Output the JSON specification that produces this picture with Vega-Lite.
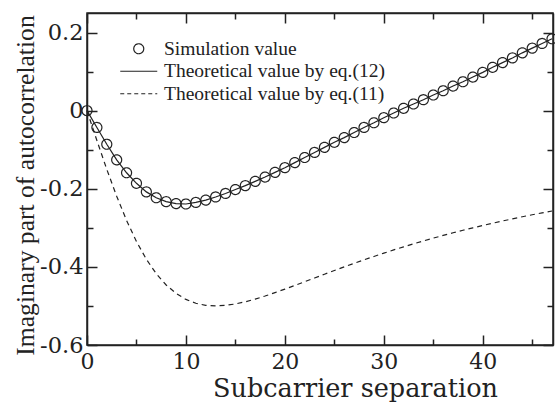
{
  "$schema": "https://vega.github.io/schema/vega-lite/v6.json",
  "autosize": {"type": "none"},
  "width": 466,
  "height": 332,
  "padding": {"left": 87, "top": 13, "right": 2, "bottom": 67},
  "background": "white",
  "config": {
    "font": "Liberation Serif",
    "view": {"stroke": "#222", "strokeWidth": 1.5},
    "legend": {"labelFont": "Liberation Serif"},
    "axis": {
      "grid": false,
      "domainColor": "#222",
      "domainWidth": 1.5,
      "tickColor": "#222",
      "tickWidth": 1.5,
      "labelColor": "#222",
      "labelFont": "DejaVu Serif",
      "labelFlush": false,
      "labelOverlap": false,
      "titleFont": "Liberation Serif",
      "titleFontWeight": "normal",
      "titleColor": "#222"
    }
  },
  "datasets": {
    "sim": [
      {"k": 0, "v": 0, "series": "Simulation value"},
      {"k": 1, "v": -0.043, "series": "Simulation value"},
      {"k": 2, "v": -0.086, "series": "Simulation value"},
      {"k": 3, "v": -0.126, "series": "Simulation value"},
      {"k": 4, "v": -0.159, "series": "Simulation value"},
      {"k": 5, "v": -0.186, "series": "Simulation value"},
      {"k": 6, "v": -0.208, "series": "Simulation value"},
      {"k": 7, "v": -0.223, "series": "Simulation value"},
      {"k": 8, "v": -0.233, "series": "Simulation value"},
      {"k": 9, "v": -0.238, "series": "Simulation value"},
      {"k": 10, "v": -0.239, "series": "Simulation value"},
      {"k": 11, "v": -0.235, "series": "Simulation value"},
      {"k": 12, "v": -0.229, "series": "Simulation value"},
      {"k": 13, "v": -0.221, "series": "Simulation value"},
      {"k": 14, "v": -0.212, "series": "Simulation value"},
      {"k": 15, "v": -0.202, "series": "Simulation value"},
      {"k": 16, "v": -0.192, "series": "Simulation value"},
      {"k": 17, "v": -0.181, "series": "Simulation value"},
      {"k": 18, "v": -0.17, "series": "Simulation value"},
      {"k": 19, "v": -0.158, "series": "Simulation value"},
      {"k": 20, "v": -0.146, "series": "Simulation value"},
      {"k": 21, "v": -0.133, "series": "Simulation value"},
      {"k": 22, "v": -0.12, "series": "Simulation value"},
      {"k": 23, "v": -0.107, "series": "Simulation value"},
      {"k": 24, "v": -0.094, "series": "Simulation value"},
      {"k": 25, "v": -0.081, "series": "Simulation value"},
      {"k": 26, "v": -0.069, "series": "Simulation value"},
      {"k": 27, "v": -0.056, "series": "Simulation value"},
      {"k": 28, "v": -0.043, "series": "Simulation value"},
      {"k": 29, "v": -0.031, "series": "Simulation value"},
      {"k": 30, "v": -0.018, "series": "Simulation value"},
      {"k": 31, "v": -0.006, "series": "Simulation value"},
      {"k": 32, "v": 0.006, "series": "Simulation value"},
      {"k": 33, "v": 0.017, "series": "Simulation value"},
      {"k": 34, "v": 0.028, "series": "Simulation value"},
      {"k": 35, "v": 0.04, "series": "Simulation value"},
      {"k": 36, "v": 0.051, "series": "Simulation value"},
      {"k": 37, "v": 0.063, "series": "Simulation value"},
      {"k": 38, "v": 0.074, "series": "Simulation value"},
      {"k": 39, "v": 0.086, "series": "Simulation value"},
      {"k": 40, "v": 0.098, "series": "Simulation value"},
      {"k": 41, "v": 0.111, "series": "Simulation value"},
      {"k": 42, "v": 0.123, "series": "Simulation value"},
      {"k": 43, "v": 0.135, "series": "Simulation value"},
      {"k": 44, "v": 0.148, "series": "Simulation value"},
      {"k": 45, "v": 0.16, "series": "Simulation value"},
      {"k": 46, "v": 0.172, "series": "Simulation value"},
      {"k": 47, "v": 0.184, "series": "Simulation value"}
    ],
    "eq11": [
      {"k": 0, "v": 0}, {"k": 1, "v": -0.0765}, {"k": 2, "v": -0.1503}, {"k": 3, "v": -0.2191},
      {"k": 4, "v": -0.2811}, {"k": 5, "v": -0.3351}, {"k": 6, "v": -0.3805}, {"k": 7, "v": -0.4174},
      {"k": 8, "v": -0.4463}, {"k": 9, "v": -0.468}, {"k": 10, "v": -0.4833}, {"k": 11, "v": -0.4931},
      {"k": 12, "v": -0.4984}, {"k": 13, "v": -0.5}, {"k": 14, "v": -0.4986}, {"k": 15, "v": -0.4949},
      {"k": 16, "v": -0.4894}, {"k": 17, "v": -0.4825}, {"k": 18, "v": -0.4746}, {"k": 19, "v": -0.466},
      {"k": 20, "v": -0.4569}, {"k": 21, "v": -0.4475}, {"k": 22, "v": -0.438}, {"k": 23, "v": -0.4284},
      {"k": 24, "v": -0.4188}, {"k": 25, "v": -0.4093}, {"k": 26, "v": -0.4}, {"k": 27, "v": -0.3909},
      {"k": 28, "v": -0.382}, {"k": 29, "v": -0.3733}, {"k": 30, "v": -0.3648}, {"k": 31, "v": -0.3566},
      {"k": 32, "v": -0.3487}, {"k": 33, "v": -0.341}, {"k": 34, "v": -0.3336}, {"k": 35, "v": -0.3264},
      {"k": 36, "v": -0.3195}, {"k": 37, "v": -0.3127}, {"k": 38, "v": -0.3063}, {"k": 39, "v": -0.3},
      {"k": 40, "v": -0.294}, {"k": 41, "v": -0.2881}, {"k": 42, "v": -0.2825}, {"k": 43, "v": -0.277},
      {"k": 44, "v": -0.2717}, {"k": 45, "v": -0.2666}, {"k": 46, "v": -0.2617}, {"k": 47, "v": -0.2569}
    ]
  },
  "resolve": {"axis": {"x": "independent", "y": "independent"}},
  "layer": [
    {
      "data": {"name": "eq11"},
      "mark": {"type": "line", "stroke": "#222", "strokeWidth": 1.2, "strokeDash": [5, 4]},
      "encoding": {
        "x": {
          "field": "k", "type": "quantitative",
          "scale": {"domain": [0, 47.1], "nice": false, "zero": false},
          "axis": {
            "orient": "bottom",
            "values": [0, 5, 10, 15, 20, 25, 30, 35, 40, 45],
            "labelExpr": "datum.value % 10 === 0 ? datum.label : ''",
            "tickSize": {"condition": {"test": "datum.value % 10 === 0", "value": -10}, "value": -6},
            "labelPadding": 16,
            "labelFontSize": 22,
            "title": "Subcarrier separation",
            "titleFont": "DejaVu Serif",
            "titleFontSize": 25.5,
            "titleX": 268,
            "titleY": 31,
            "titleBaseline": "top",
            "titleAlign": "center"
          }
        },
        "y": {
          "field": "v", "type": "quantitative",
          "scale": {"domain": [-0.6, 0.25], "nice": false, "zero": false},
          "axis": {
            "orient": "left",
            "values": [-0.6, -0.5, -0.4, -0.3, -0.2, -0.1, 0, 0.1, 0.2],
            "labelExpr": "round(datum.value * 10) % 2 === 0 ? (datum.value === 0 ? '0' : replace(format(datum.value, '.1f'), '\u2212', '-')) : ''",
            "tickSize": {"condition": {"test": "round(datum.value * 10) % 2 === 0", "value": -10}, "value": -6},
            "labelPadding": 14,
            "labelFontSize": 22.5,
            "title": "Imaginary part of autocorrelation",
            "titleFontSize": 25.6,
            "titleAngle": -90,
            "titleX": -49,
            "titleY": 172,
            "titleBaseline": "bottom",
            "titleAlign": "center"
          }
        }
      }
    },
    {
      "data": {"name": "sim"},
      "mark": {"type": "line", "stroke": "#222", "strokeWidth": 1.2},
      "encoding": {
        "x": {"field": "k", "type": "quantitative", "axis": null},
        "y": {"field": "v", "type": "quantitative", "axis": null}
      }
    },
    {
      "data": {"name": "sim"},
      "mark": {"type": "point", "filled": false, "stroke": "#222", "strokeWidth": 1.2, "opacity": 1, "size": 100},
      "encoding": {
        "x": {
          "field": "k", "type": "quantitative",
          "axis": {
            "orient": "top", "labels": false, "title": null,
            "values": [0, 5, 10, 15, 20, 25, 30, 35, 40, 45],
            "tickSize": {"condition": {"test": "datum.value % 10 === 0", "value": -10}, "value": -6}
          }
        },
        "y": {
          "field": "v", "type": "quantitative",
          "axis": {
            "orient": "right", "labels": false, "title": null,
            "values": [-0.6, -0.5, -0.4, -0.3, -0.2, -0.1, 0, 0.1, 0.2],
            "tickSize": {"condition": {"test": "round(datum.value * 10) % 2 === 0", "value": -10}, "value": -6}
          }
        },
        "shape": {
          "field": "series", "type": "nominal",
          "scale": {"domain": ["Simulation value", "Theoretical value by eq.(12)", "Theoretical value by eq.(11)"], "range": ["circle", "M-3.7,0L3.7,0", "M-3.7,0L3.7,0"]},
          "legend": {
            "title": null,
            "orient": "none",
            "legendX": 42,
            "legendY": 26,
            "padding": 0,
            "labelFont": "Liberation Serif",
            "labelFontSize": 19.5,
            "labelColor": "#222",
            "labelLimit": 400,
            "labelOffset": 15.5,
            "symbolSize": 100,
            "symbolStrokeColor": "#222",
            "symbolStrokeWidth": 1.2,
            "symbolFillColor": "transparent",
            "rowPadding": 1.5
          }
        },
        "strokeDash": {
          "field": "series", "type": "nominal",
          "scale": {"domain": ["Simulation value", "Theoretical value by eq.(12)", "Theoretical value by eq.(11)"], "range": [[1, 0], [1, 0], [4, 3]]}
        }
      }
    }
  ]
}
